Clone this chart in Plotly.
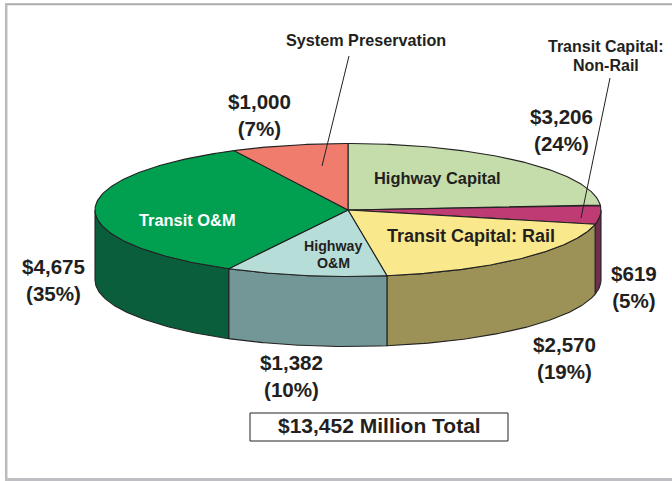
import numpy as np
import plotly.graph_objects as go

# Data, clockwise from 12 o'clock
categories = ["Highway Capital", "Transit Capital: Non-Rail", "Transit Capital: Rail",
              "Highway O&M", "Transit O&M", "System Preservation"]
values = [3206, 619, 2570, 1382, 4675, 1000]
percents = ["24%", "5%", "19%", "10%", "35%", "7%"]
total_label = "$13,452 Million Total"

top_colors = ["#C5DDAB", "#BE3B73", "#FAE88C", "#B7DDD9", "#00A050", "#F07C6E"]
wall_colors = [None, "#6E2F4E", "#9C9156", "#739696", "#0B5E3C", None]

CX, CY, RX, RY, DEPTH = 348, 210, 253, 66.5, 70
EDGE = "#222222"
FONT = "Liberation Sans"
TEXT = "#231F20"

def ell(a):
    a = np.radians(a)
    return CX + RX * np.sin(a), CY - RY * np.cos(a)

fig = go.Figure()

def poly(xs, ys, fill, lw=1.1, color=EDGE):
    fig.add_trace(go.Scatter(x=list(xs), y=list(ys), mode="lines", fill="toself",
                             fillcolor=fill, line=dict(color=color, width=lw),
                             hoverinfo="skip", showlegend=False))

edges = np.concatenate([[0], np.cumsum(values) / sum(values) * 360])

# walls (only the front half, 90..270 degrees)
for i, col in enumerate(wall_colors):
    if col is None:
        continue
    a0, a1 = max(edges[i], 90), min(edges[i + 1], 270)
    t = np.linspace(a0, a1, 80)
    x, y = ell(t)
    poly(np.r_[x, x[::-1], x[0]], np.r_[y, y[::-1] + DEPTH, y[0]], col)

# top slices
for i, col in enumerate(top_colors):
    t = np.linspace(edges[i], edges[i + 1], 120)
    x, y = ell(t)
    poly(np.r_[CX, x, CX], np.r_[CY, y, CY], col)

# leader lines
for xs, ys in [([349, 322], [56, 166]), ([610, 581], [78, 218])]:
    fig.add_trace(go.Scatter(x=xs, y=ys, mode="lines", line=dict(color="#222222", width=1),
                             hoverinfo="skip", showlegend=False))

def amount(v, p):
    return f"${v:,}<br>({p})"

notes = [
    (259, 115, amount(values[5], percents[5]), 20.6, TEXT),
    (561, 130, amount(values[0], percents[0]), 20.6, TEXT),
    (634, 287, amount(values[1], percents[1]), 20.6, TEXT),
    (564, 358, amount(values[2], percents[2]), 20.6, TEXT),
    (291, 376, amount(values[3], percents[3]), 20.6, TEXT),
    (53, 280, amount(values[4], percents[4]), 20.6, TEXT),
    (366, 40, categories[5], 16.2, TEXT),
    (606, 46, "Transit Capital:", 16, TEXT),
    (606, 65, "Non-Rail", 16, TEXT),
    (437, 178, categories[0], 16.4, TEXT),
    (471, 236, categories[2], 18, TEXT),
    (333, 246, "Highway", 14.2, TEXT),
    (333, 263, "O&M", 14.2, TEXT),
    (187, 220, categories[4], 16.4, "#FFFFFF"),
    (379, 425.5, total_label, 21, TEXT),
]
annotations = [dict(x=x, y=y, text=t, showarrow=False, xanchor="center", yanchor="middle",
                    font=dict(family=FONT, size=s, color=c, weight="bold"), align="center")
               for x, y, t, s, c in notes]

shapes = [
    dict(type="rect", x0=250, x1=508, y0=413, y1=441, line=dict(color="#222222", width=1),
         fillcolor="white", layer="below"),
    dict(type="line", x0=5, x1=672, y0=4.2, y1=4.2, line=dict(color="#ABABB0", width=2), layer="below"),
    dict(type="line", x0=6.2, x1=6.2, y0=3, y1=481, line=dict(color="#BBBBBF", width=2.5), layer="below"),
    dict(type="line", x0=5, x1=672, y0=479.5, y1=479.5, line=dict(color="#BFBFC3", width=3), layer="below"),
]

fig.update_layout(
    width=672, height=481, margin=dict(l=0, r=0, t=0, b=0),
    paper_bgcolor="white", plot_bgcolor="white", showlegend=False,
    xaxis=dict(range=[0, 672], visible=False, fixedrange=True),
    yaxis=dict(range=[481, 0], visible=False, fixedrange=True),
    annotations=annotations, shapes=shapes,
)
fig.write_html("out.html", config={"displayModeBar": False},
               post_script="document.body.style.margin='0';document.body.style.overflow='hidden';")
